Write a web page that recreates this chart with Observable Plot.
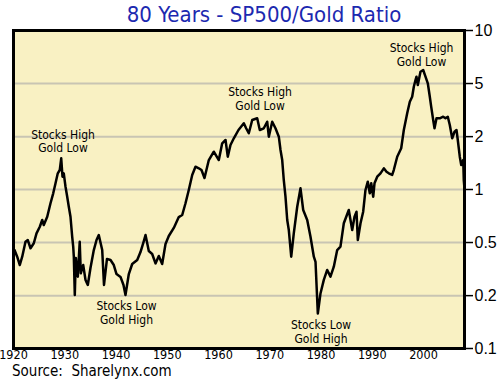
<!DOCTYPE html>
<html>
<head>
<meta charset="utf-8">
<script src="https://cdn.jsdelivr.net/npm/d3@7"></script>
<script src="https://cdn.jsdelivr.net/npm/@observablehq/plot@0.6"></script>
<style>
  html, body { margin: 0; padding: 0; background: #ffffff; }
  body { position: relative; width: 501px; height: 386px; overflow: hidden; }
  .narrow { font-family: "Liberation Sans Narrow", "Arial Narrow", "DejaVu Sans Condensed", sans-serif; font-stretch: condensed; }
  #title { position: absolute; left: 0; top: 4px; width: 501px; box-sizing: border-box; padding-left: 27px;
           text-align: center; font-size: 22px; line-height: 22px; color: #1c29b0; white-space: pre; }
  #source { position: absolute; left: 12px; top: 364px; font-size: 15px; line-height: 14px; color: #000; white-space: pre; }
  #chart { position: absolute; left: 0; top: 0; }
</style>
</head>
<body>
<div id="chart"></div>
<div id="title" class="narrow">80 Years - SP500/Gold Ratio</div>
<div id="source" class="narrow">Source:  Sharelynx.com</div>
<script>
const years = [1920.2,1920.72,1921.23,1921.7,1922.34,1922.79,1923.32,1923.96,1924.49,1925.13,
1925.6,1925.91,1926.58,1927.22,1927.75,1928.2,1928.64,1929.03,1929.31,1929.56,
1929.81,1930.15,1930.48,1930.79,1931.12,1931.45,1931.65,1931.77,1931.96,1932.16,
1932.39,1932.55,1932.92,1933.13,1933.6,1934.05,1934.5,1935.02,1935.67,1936.2,
1936.64,1937.31,1937.66,1938.24,1938.93,1939.57,1940.1,1940.88,1941.46,1941.85,
1942.5,1943.16,1944.14,1944.78,1945.37,1945.76,1946.4,1947.06,1947.71,1948.35,
1949.01,1949.66,1950.3,1951.28,1952.25,1952.92,1953.56,1954.2,1954.87,1955.51,
1956.16,1956.68,1957.27,1958.11,1959.08,1960.06,1960.72,1961.37,1961.81,1962.34,
1962.99,1963.9,1964.94,1965.37,1965.91,1966.58,1967.55,1968.06,1968.84,1969.5,
1969.82,1970.48,1971.12,1971.77,1972.1,1972.43,1972.74,1973.07,1973.41,1973.72,
1974.19,1974.69,1975.36,1976.0,1976.53,1977.31,1977.95,1978.6,1978.93,1979.38,
1979.9,1980.55,1981.21,1981.85,1982.5,1983.16,1983.8,1984.45,1985.42,1986.09,
1986.54,1986.93,1987.18,1987.71,1988.23,1988.68,1989.13,1989.52,1989.8,1990.19,
1990.44,1990.97,1991.61,1992.26,1992.78,1993.23,1993.89,1994.2,1994.87,1995.65,
1996.16,1996.82,1997.33,1997.79,1998.11,1998.44,1998.63,1998.89,1999.41,1999.94,
2000.39,2000.84,2001.23,2001.5,2001.89,2002.15,2002.54,2003.18,2003.84,2004.29,
2004.74,2005.13,2005.6,2006.05,2006.44,2006.69,2007.08,2007.36,2007.75,2007.86,
2008.0];

const ratios = [0.416,0.378,0.335,0.378,0.469,0.481,0.427,0.459,0.530,0.583,
0.643,0.598,0.674,0.819,0.946,1.094,1.264,1.326,1.571,1.204,
1.264,1.041,0.901,0.779,0.674,0.505,0.437,0.378,0.217,0.371,
0.312,0.283,0.469,0.297,0.335,0.270,0.251,0.321,0.416,0.481,
0.517,0.416,0.251,0.366,0.360,0.335,0.294,0.282,0.251,0.217,
0.294,0.340,0.360,0.404,0.467,0.517,0.410,0.393,0.343,0.382,
0.340,0.454,0.510,0.573,0.671,0.691,0.819,0.993,1.234,1.391,
1.359,1.326,1.181,1.532,1.729,1.532,1.953,2.048,1.608,1.905,
2.099,2.367,2.609,2.437,2.257,2.736,2.804,2.367,2.426,2.669,
2.148,2.669,2.426,2.148,1.772,1.532,1.147,0.901,0.643,0.556,
0.378,0.530,0.779,1.017,0.743,0.643,0.505,0.378,0.351,0.166,
0.222,0.270,0.312,0.283,0.327,0.416,0.437,0.613,0.743,0.556,
0.674,0.725,0.481,0.613,0.725,0.993,1.120,0.946,1.094,0.901,
1.094,1.204,1.264,1.359,1.294,1.264,1.234,1.326,1.608,1.816,
2.367,3.015,3.566,3.833,4.431,4.884,5.122,4.541,5.507,5.644,
5.122,4.655,3.833,3.317,2.736,2.426,2.804,2.804,2.870,2.804,
2.870,2.545,2.099,2.309,2.367,2.048,1.608,1.426,1.532,1.147,
1.01];

// gridline / tick values on the right axis and their printed labels
const yTickValues = [10, 4.64, 2.15, 1, 0.464, 0.215, 0.1];
const yTickLabels = ["10", "5", "2", "1", "0.5", "0.2", "0.1"];
const xTickValues = [1920, 1930, 1940, 1950, 1960, 1970, 1980, 1990, 2000];

// annotations
const noteYears = [1929.66, 1942.05, 1968.1, 1980.0, 1999.61];
const noteRatios = [2.01, 0.1675, 3.735, 0.1274, 7.04];
const noteLabels = ["Stocks High\nGold Low", "Stocks Low\nGold High", "Stocks High\nGold Low", "Stocks Low\nGold High", "Stocks High\nGold Low"];

const data = years.map((year, i) => ({year, ratio: ratios[i]}));
const notes = noteYears.map((year, i) => ({year, ratio: noteRatios[i], label: noteLabels[i]}));
const yLabelMap = new Map(yTickValues.map((v, i) => [v, yTickLabels[i]]));

const narrow = '"Liberation Sans Narrow", "Arial Narrow", "DejaVu Sans Condensed", sans-serif';

const chart = Plot.plot({
  width: 501,
  height: 362,
  marginLeft: 13,
  marginRight: 37,
  marginTop: 30,
  marginBottom: 14,
  style: {background: "white", fontFamily: narrow, overflow: "visible"},
  x: {domain: [1920, 2008]},
  y: {type: "log", domain: [0.1, 10]},
  marks: [
    Plot.frame({fill: "#f9f1c3", stroke: null}),
    Plot.ruleY(yTickValues.slice(1, -1), {stroke: "#c9c5b3", strokeWidth: 2}),
    Plot.line(data, {x: "year", y: "ratio", stroke: "black", strokeWidth: 2.5, strokeLinejoin: "round"}),
    Plot.text(notes, {x: "year", y: "ratio", text: "label", fontSize: 12, lineHeight: 1.12, fill: "black", fontFamily: narrow}),
    Plot.frame({stroke: "black", strokeWidth: 3}),
    Plot.axisY(yTickValues, {anchor: "right", tickSize: 8, tickPadding: 2, strokeWidth: 1.5,
      tickFormat: d => yLabelMap.get(d), fontSize: 16, fontFamily: "'Liberation Sans', Arial, sans-serif", fill: "black", label: null}),
    Plot.axisX(xTickValues, {anchor: "bottom", tickSize: 0, tickPadding: 2,
      tickFormat: d => String(d), fontSize: 12.5, fontFamily: narrow, fill: "black", label: null})
  ]
});
document.getElementById("chart").appendChild(chart);
</script>
</body>
</html>
